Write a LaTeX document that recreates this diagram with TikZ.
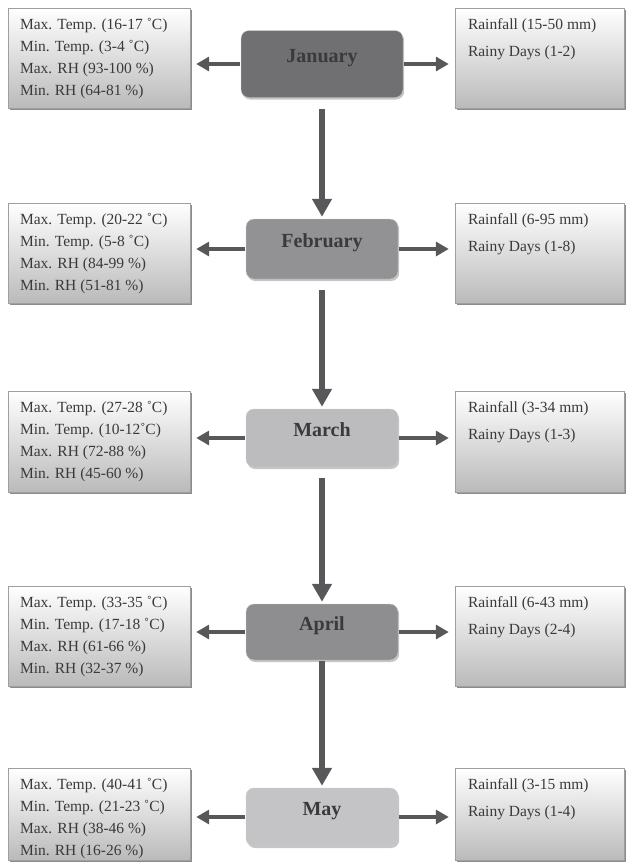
\documentclass[tikz,border=0pt]{standalone}
\usepackage{fontspec}
\setmainfont{Liberation Serif}
\usepackage{xcolor}
\usetikzlibrary{arrows.meta, positioning, shadows}
\definecolor{txtgray}{RGB}{58,58,60}
\definecolor{arrgray}{RGB}{88,88,90}
\definecolor{jancol}{RGB}{112,112,114}
\definecolor{febcol}{RGB}{146,146,149}
\definecolor{marcol}{RGB}{188,188,191}
\definecolor{aprcol}{RGB}{142,142,145}
\definecolor{maycol}{RGB}{196,196,199}
\tikzset{
	databox/.style={draw=gray!75, top color=white, bottom color=black!27, inner sep=0pt,
		drop shadow={shadow xshift=1.5pt, shadow yshift=-1.5pt, opacity=1, fill=gray!90}},
	leftbox/.style={databox, minimum width=182pt, minimum height=100pt},
	rightbox/.style={databox, minimum width=169pt, minimum height=100pt},
	lefttext/.style={align=left, inner sep=0pt, text=txtgray, font=\fontsize{15.5}{22}\selectfont},
	righttext/.style={align=left, inner sep=0pt, text=txtgray, font=\fontsize{15.5}{27}\selectfont},
	monthbox/.style={draw=gray!40, rounded corners=8pt, minimum width=152pt, minimum height=58pt,
		text=txtgray, font=\fontsize{20}{24}\selectfont\bfseries, text height=14pt, text depth=17pt,
		drop shadow={shadow xshift=1.2pt, shadow yshift=-2pt, opacity=1, fill=gray!45}},
	harrow/.style={draw=arrgray, line width=4.3pt, -{Triangle[width=14pt,length=13pt]}, shorten <=1pt, shorten >=6pt},
	varrow/.style={draw=arrgray, line width=5.5pt, -{Triangle[width=19pt,length=18pt]}, shorten <=11pt, shorten >=2pt}
}

\begin{document}
\begin{tikzpicture}[x=1pt, y=-1pt]
	\useasboundingbox (0,0) rectangle (626,865);

	\node[leftbox] (janL) at (99,58) {};
	\node[lefttext, below right=10pt and 12pt of janL.north west] (janLt) {Max. Temp. (16-17 ˚C)\\Min. Temp. (3-4 ˚C)\\Max. RH (93-100 \%)\\Min. RH (64-81 \%)};
	\node[rightbox] (janR) at (539.5,58) {};
	\node[righttext, below right=11pt and 13pt of janR.north west] (janRt) {Rainfall (15-50 mm)\\Rainy Days (1-2)};
	\node[monthbox, fill=jancol, minimum width=162pt, minimum height=67pt] (jan) at (322,64) {January};

	\node[leftbox] (febL) at (99,253) {};
	\node[lefttext, below right=10pt and 12pt of febL.north west] (febLt) {Max. Temp. (20-22 ˚C)\\Min. Temp. (5-8 ˚C)\\Max. RH (84-99 \%)\\Min. RH (51-81 \%)};
	\node[rightbox] (febR) at (539.5,253) {};
	\node[righttext, below right=11pt and 13pt of febR.north west] (febRt) {Rainfall (6-95 mm)\\Rainy Days (1-8)};
	\node[monthbox, fill=febcol, minimum height=60pt] (feb) at (322,249) {February};

	\node[leftbox, minimum height=101pt] (marL) at (99,441.5) {};
	\node[lefttext, below right=10pt and 12pt of marL.north west] (marLt) {Max. Temp. (27-28 ˚C)\\Min. Temp. (10-12˚C)\\Max. RH (72-88 \%)\\Min. RH (45-60 \%)};
	\node[rightbox, minimum height=101pt] (marR) at (539.5,441.5) {};
	\node[righttext, below right=11pt and 13pt of marR.north west] (marRt) {Rainfall (3-34 mm)\\Rainy Days (1-3)};
	\node[monthbox, fill=marcol] (mar) at (322,438) {March};

	\node[leftbox] (aprL) at (99,636) {};
	\node[lefttext, below right=10pt and 12pt of aprL.north west] (aprLt) {Max. Temp. (33-35 ˚C)\\Min. Temp. (17-18 ˚C)\\Max. RH (61-66 \%)\\Min. RH (32-37 \%)};
	\node[rightbox] (aprR) at (539.5,636) {};
	\node[righttext, below right=11pt and 13pt of aprR.north west] (aprRt) {Rainfall (6-43 mm)\\Rainy Days (2-4)};
	\node[monthbox, fill=aprcol, minimum height=56pt] (apr) at (322,632) {April};

	\node[leftbox, minimum height=92pt] (mayL) at (99,814) {};
	\node[lefttext, below right=10pt and 12pt of mayL.north west] (mayLt) {Max. Temp. (40-41 ˚C)\\Min. Temp. (21-23 ˚C)\\Max. RH (38-46 \%)\\Min. RH (16-26 \%)};
	\node[rightbox, minimum height=92pt] (mayR) at (539.5,814) {};
	\node[righttext, below right=11pt and 13pt of mayR.north west] (mayRt) {Rainfall (3-15 mm)\\Rainy Days (1-4)};
	\node[monthbox, fill=maycol] (may) at (322,817) {May};

	\foreach \m in {jan,feb,mar,apr,may} {
		\draw[harrow] (\m.west) -- (\m.west -| \m L.east);
		\draw[harrow] (\m.east) -- (\m.east -| \m R.west);
	}
	\draw[varrow] (jan.south) -- (feb.north);
	\draw[varrow] (feb.south) -- (mar.north);
	\draw[varrow] (mar.south) -- (apr.north);
	\draw[varrow, shorten <=1pt] (apr.south) -- (may.north);
\end{tikzpicture}
\end{document}
